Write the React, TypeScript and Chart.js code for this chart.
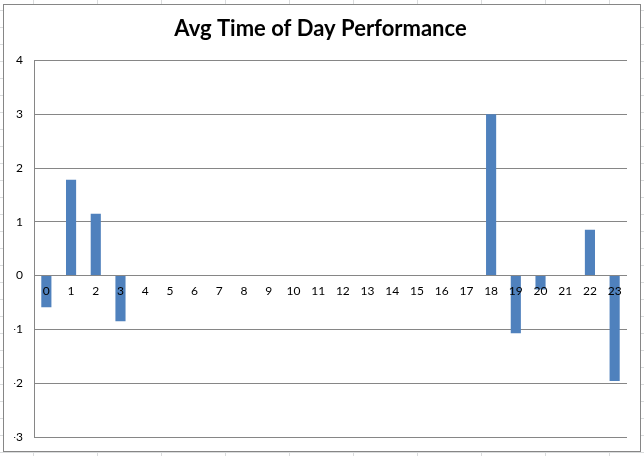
import { useEffect, useRef } from "react"
import { Chart, registerables } from "chart.js"

Chart.register(...registerables)

const hours = ["0", "1", "2", "3", "4", "5", "6", "7", "8", "9", "10", "11", "12", "13", "14", "15", "16", "17", "18", "19", "20", "21", "22", "23"]
const performance = [-0.59, 1.78, 1.15, -0.85, 0, 0, 0, 0, 0, 0, 0, 0, 0, 0, 0, 0, 0, 0, 3.0, -1.07, -0.26, 0, 0.85, -1.96]
const yTicks = [-3, -2, -1, 0, 1, 2, 3, 4]

const gridGrey = "#868686"

export default function App() {
  const canvasRef = useRef<HTMLCanvasElement | null>(null)

  useEffect(() => {
    if (!canvasRef.current) return
    const chart = new Chart(canvasRef.current, {
      type: "bar",
      data: {
        labels: hours,
        datasets: [
          {
            label: "Avg",
            data: performance,
            backgroundColor: "#4F81BD",
            borderWidth: 0,
            barPercentage: 0.41,
            categoryPercentage: 1,
          },
        ],
      },
      options: {
        animation: false,
        responsive: false,
        maintainAspectRatio: false,
        layout: { padding: { left: 10, right: 13, top: 0, bottom: 14 } },
        plugins: {
          legend: { display: false },
          tooltip: { enabled: false },
          title: {
            display: true,
            text: "Avg Time of Day Performance",
            color: "#000",
            font: { family: "Lato", size: 22, weight: "bold", lineHeight: 1.2 },
            padding: { top: 11, bottom: 18 },
          },
        },
        scales: {
          x: {
            position: { y: 0 },
            grid: { display: false, drawTicks: false },
            border: { display: false },
            ticks: {
              // labels sit on top of the bars, like Excel
              z: 1,
              color: "#000",
              font: { family: "Lato", size: 12 },
              padding: 8,
              maxRotation: 0,
              autoSkip: false,
            },
          },
          y: {
            min: yTicks[0],
            max: yTicks[yTicks.length - 1],
            grid: { color: gridGrey, lineWidth: 1, drawTicks: false },
            border: { display: true, color: gridGrey, width: 1 },
            afterFit: (scale) => {
              scale.width = 20
              scale.paddingTop = 0
              scale.paddingBottom = 0
            },
            ticks: {
              stepSize: 1,
              color: "#000",
              font: { family: "Lato", size: 12 },
              padding: 11,
            },
          },
        },
      },
    })
    return () => {
      chart.destroy()
    }
  }, [])

  return (
    <div
      style={{
        position: "fixed",
        left: 0,
        top: 0,
        width: 644,
        height: 456,
        background: "#fff",
        backgroundImage:
          "repeating-linear-gradient(to right, transparent 0px, transparent 33px, #dadcdd 33px, #dadcdd 34px, transparent 34px, transparent 64px), repeating-linear-gradient(to bottom, transparent 0px, transparent 10px, #dadcdd 10px, #dadcdd 11px, transparent 11px, transparent 17px)",
      }}
    >
      <div
        style={{
          position: "absolute",
          left: 3,
          top: 4,
          width: 636,
          height: 446,
          border: `1px solid ${gridGrey}`,
          background: "#fff",
        }}
      >
        <canvas ref={canvasRef} width={636} height={446} style={{ display: "block" }}></canvas>
      </div>
    </div>
  )
}
